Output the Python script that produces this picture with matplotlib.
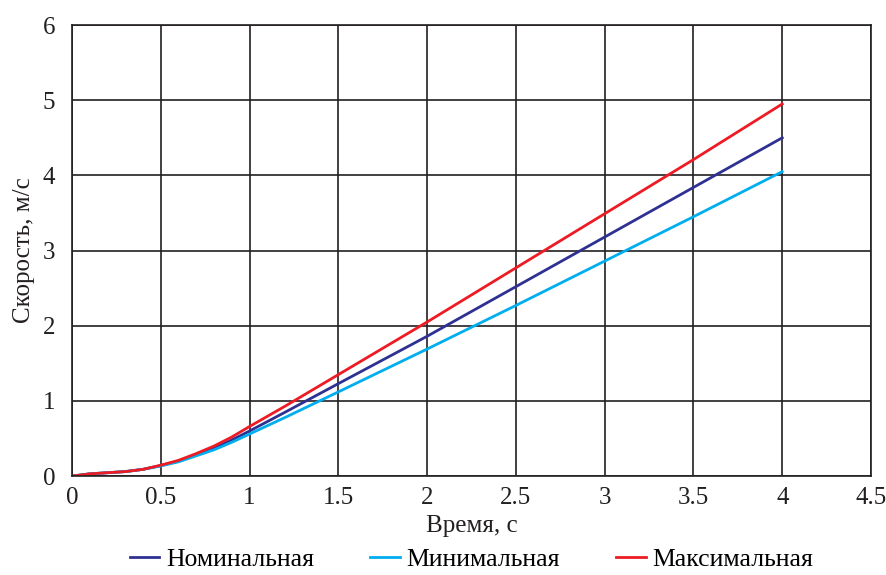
import matplotlib.pyplot as plt

t = [0, 0.1, 0.2, 0.3, 0.4, 0.5, 0.6, 0.7, 0.8, 0.9, 1.0, 1.2, 1.5, 2, 2.5, 3, 3.5, 4]
nominal = [0, 0.03, 0.045, 0.06, 0.09, 0.14, 0.2, 0.28, 0.37, 0.48, 0.6, 0.85, 1.23, 1.86, 2.52, 3.18, 3.84, 4.5]
minimal = [0, 0.03, 0.045, 0.06, 0.09, 0.135, 0.19, 0.27, 0.35, 0.45, 0.56, 0.78, 1.12, 1.69, 2.27, 2.86, 3.45, 4.05]
maximal = [0, 0.03, 0.045, 0.06, 0.09, 0.145, 0.21, 0.3, 0.4, 0.52, 0.66, 0.93, 1.35, 2.05, 2.77, 3.49, 4.21, 4.95]

plt.rcParams['font.family'] = ['Liberation Serif', 'DejaVu Serif']

fig = plt.figure(figsize=(8.87, 5.75), dpi=100)
ax = fig.add_axes([0.0812, 0.172, 0.9008, 0.7845])

ax.plot(t, nominal, color='#2e3192', lw=2, label='Номинальная')
ax.plot(t, minimal, color='#00aeef', lw=2, label='Минимальная')
ax.plot(t, maximal, color='#ed1c24', lw=2, label='Максимальная')

ax.set_xlim(0, 4.5)
ax.set_ylim(0, 6)
ax.set_xticks([0, 0.5, 1, 1.5, 2, 2.5, 3, 3.5, 4, 4.5])
ax.set_xticklabels(['0', '0.5', '1', '1.5', '2', '2.5', '3', '3.5', '4', '4.5'])
ax.set_yticks(range(7))
ax.grid(True, color='#231f20', lw=1.2)
ax.set_axisbelow(True)
for s in ax.spines.values():
    s.set_color('#231f20')
    s.set_linewidth(1.2)
ax.tick_params(length=0, labelsize=18, colors='#231f20')
ax.tick_params(axis='x', pad=8)
ax.tick_params(axis='y', pad=12)

ax.set_xlabel('Время, с', fontsize=18, labelpad=4, color='#231f20')
ax.set_ylabel('Скорость, м/с', fontsize=18, labelpad=6, color='#231f20')

ax.legend(loc='lower center', bbox_to_anchor=(0.5, -0.262), ncol=3, frameon=False,
          fontsize=18.5, handlelength=1.15, handletextpad=0.25, columnspacing=2.2,
          borderpad=0.4)

fig.savefig('out.png', dpi=100)
